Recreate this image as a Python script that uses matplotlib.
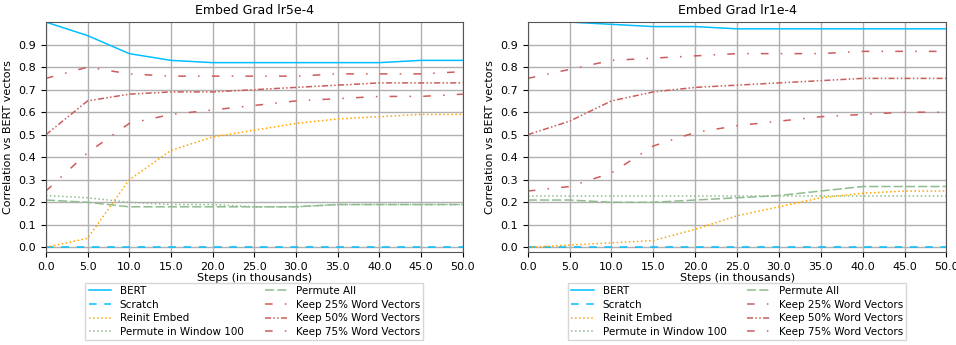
import matplotlib
matplotlib.use('Agg')
import matplotlib.pyplot as plt

steps = [0, 5, 10, 15, 20, 25, 30, 35, 40, 45, 50]

labels = ['BERT', 'Scratch', 'Reinit Embed', 'Permute in Window 100', 'Permute All',
          'Keep 25% Word Vectors', 'Keep 50% Word Vectors', 'Keep 75% Word Vectors']

# lr5e-4
left_vals = [
    [1.00, 0.94, 0.86, 0.83, 0.82, 0.82, 0.82, 0.82, 0.82, 0.83, 0.83],
    [0.00, 0.00, 0.00, 0.00, 0.00, 0.00, 0.00, 0.00, 0.00, 0.00, 0.00],
    [0.00, 0.04, 0.30, 0.43, 0.49, 0.52, 0.55, 0.57, 0.58, 0.59, 0.59],
    [0.23, 0.22, 0.20, 0.19, 0.19, 0.18, 0.18, 0.19, 0.19, 0.19, 0.19],
    [0.21, 0.20, 0.18, 0.18, 0.18, 0.18, 0.18, 0.19, 0.19, 0.19, 0.19],
    [0.25, 0.42, 0.55, 0.59, 0.61, 0.63, 0.65, 0.66, 0.67, 0.67, 0.68],
    [0.50, 0.65, 0.68, 0.69, 0.69, 0.70, 0.71, 0.72, 0.73, 0.73, 0.73],
    [0.75, 0.80, 0.77, 0.76, 0.76, 0.76, 0.76, 0.77, 0.77, 0.77, 0.78],
]

# lr1e-4
right_vals = [
    [1.00, 1.00, 0.99, 0.98, 0.98, 0.97, 0.97, 0.97, 0.97, 0.97, 0.97],
    [0.00, 0.00, 0.00, 0.00, 0.00, 0.00, 0.00, 0.00, 0.00, 0.00, 0.00],
    [0.00, 0.01, 0.02, 0.03, 0.08, 0.14, 0.18, 0.22, 0.24, 0.25, 0.25],
    [0.23, 0.23, 0.23, 0.23, 0.23, 0.23, 0.23, 0.23, 0.23, 0.23, 0.23],
    [0.21, 0.21, 0.20, 0.20, 0.21, 0.22, 0.23, 0.25, 0.27, 0.27, 0.27],
    [0.25, 0.27, 0.33, 0.45, 0.51, 0.54, 0.56, 0.58, 0.59, 0.60, 0.60],
    [0.50, 0.56, 0.65, 0.69, 0.71, 0.72, 0.73, 0.74, 0.75, 0.75, 0.75],
    [0.75, 0.79, 0.83, 0.84, 0.85, 0.86, 0.86, 0.86, 0.87, 0.87, 0.87],
]

titles = ['Embed Grad lr5e-4', 'Embed Grad lr1e-4']

colors = ['deepskyblue', 'deepskyblue', 'orange', 'darkseagreen', 'darkseagreen',
          'indianred', 'indianred', 'indianred']
styles = ['-', (0, (5, 5)), ':', ':', (0, (6, 2)),
          (0, (5, 8, 1, 8)), (0, (4, 1.5, 1, 1.5, 1, 1.5)), (0, (5, 8, 1, 8))]

fig = plt.figure(figsize=(9.56, 3.45), dpi=100)
positions = [[0.048, 0.270, 0.436, 0.666], [0.552, 0.270, 0.438, 0.666]]

for pos, title, vals in zip(positions, titles, [left_vals, right_vals]):
    ax = fig.add_axes(pos)
    for v, lab, c, ls in zip(vals, labels, colors, styles):
        ax.plot(steps, v, color=c, linestyle=ls, linewidth=1.1, label=lab)
    ax.set_xlim(0, 50)
    ax.set_ylim(-0.02, 1.0)
    ax.set_xticks(steps)
    ax.set_xticklabels(['%.1f' % s for s in steps])
    ax.set_yticks([i / 10 for i in range(10)])
    ax.set_yticklabels(['%.1f' % (i / 10) for i in range(10)])
    ax.grid(True, color='#b0b0b0', linewidth=1.0)
    for sp in ax.spines.values():
        sp.set_color('#555555')
    ax.tick_params(labelsize=8)
    ax.set_title(title, fontsize=9)
    ax.set_xlabel('Steps (in thousands)', fontsize=8, labelpad=1)
    ax.set_ylabel('Correlation vs BERT vectors', fontsize=8)
    ax.legend(loc='upper center', bbox_to_anchor=(0.5, -0.135), ncol=2, fontsize=7.5,
              frameon=True, fancybox=False, borderaxespad=0, labelspacing=0.35,
              columnspacing=2.0, handlelength=2.2, borderpad=0.3)

plt.savefig('out.png', dpi=100)
